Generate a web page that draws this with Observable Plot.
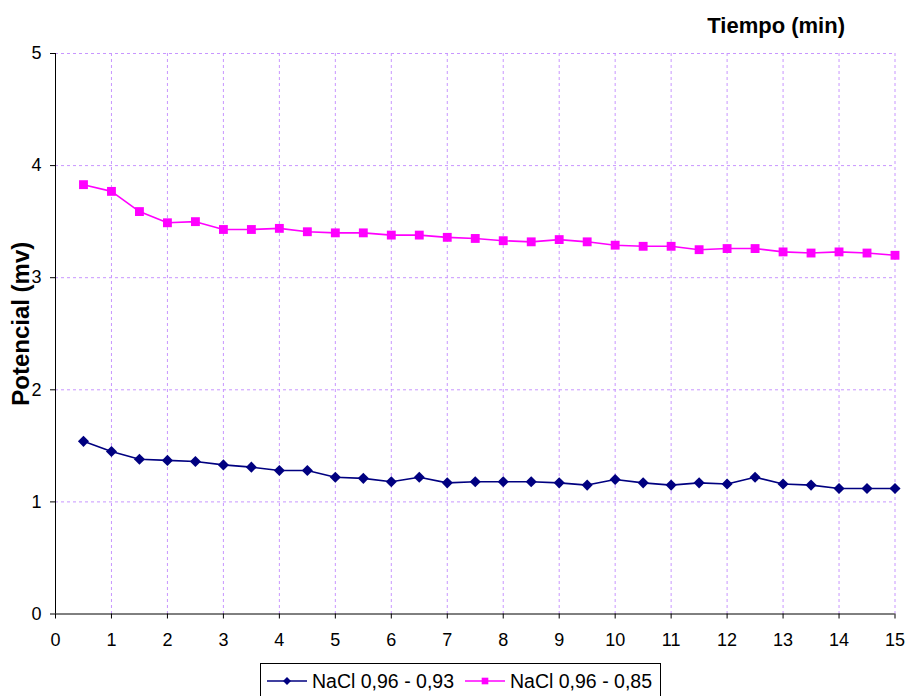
<!DOCTYPE html>
<html>
<head>
<meta charset="utf-8">
<script src="https://cdn.jsdelivr.net/npm/d3@7"></script>
<script src="https://cdn.jsdelivr.net/npm/@observablehq/plot@0.6"></script>
<style>
  html, body { margin: 0; padding: 0; background: #fff; }
  #wrap { position: relative; width: 908px; height: 696px; overflow: hidden; font-family: "Liberation Sans", Arial, sans-serif; }
  #legend {
    position: absolute; left: 260px; top: 663px; width: 401px; height: 44px;
    border: 1px solid #000; box-sizing: border-box; background: #fff;
    font-size: 19.5px; color: #000;
  }
  #legend .item { position: absolute; top: 4px; display: flex; align-items: center; white-space: nowrap; }
  #legend svg { display: block; }
</style>
</head>
<body>
<div id="wrap">
  <div id="chart"></div>
  <div id="legend"></div>
</div>
<script>
// Tiempo (min) de cada lectura
const tiempo = [0.5, 1, 1.5, 2, 2.5, 3, 3.5, 4, 4.5, 5, 5.5, 6, 6.5, 7, 7.5,
                8, 8.5, 9, 9.5, 10, 10.5, 11, 11.5, 12, 12.5, 13, 13.5, 14, 14.5, 15];

// Potencial (mv), NaCl 0,96 - 0,93
const nacl093 = [1.54, 1.45, 1.38, 1.37, 1.36, 1.33, 1.31, 1.28, 1.28, 1.22, 1.21, 1.18, 1.22, 1.17, 1.18,
                 1.18, 1.18, 1.17, 1.15, 1.20, 1.17, 1.15, 1.17, 1.16, 1.22, 1.16, 1.15, 1.12, 1.12, 1.12];

// Potencial (mv), NaCl 0,96 - 0,85
const nacl085 = [3.83, 3.77, 3.59, 3.49, 3.50, 3.43, 3.43, 3.44, 3.41, 3.40, 3.40, 3.38, 3.38, 3.36, 3.35,
                 3.33, 3.32, 3.34, 3.32, 3.29, 3.28, 3.28, 3.25, 3.26, 3.26, 3.23, 3.22, 3.23, 3.22, 3.20];

const seriesNames = ["NaCl 0,96 - 0,93", "NaCl 0,96 - 0,85"];
const xTicks = d3.range(0, 16);
const yTicks = [0, 1, 2, 3, 4, 5];
const xTitle = "Tiempo (min)";
const yTitle = "Potencial (mv)";

const colors = ["#000080", "#ff00ff"];
const symbols = ["diamond2", "square"];

const rows = [
  ...tiempo.map((t, i) => ({t, v: nacl093[i], s: seriesNames[0]})),
  ...tiempo.map((t, i) => ({t, v: nacl085[i], s: seriesNames[1]}))
];

const gridColor = "#c896ff";

const chart = Plot.plot({
  width: 908,
  height: 655,
  marginTop: 53,
  marginBottom: 41.5,
  marginLeft: 55,
  marginRight: 13.5,
  style: {fontFamily: "'Liberation Sans', Arial, sans-serif", fontSize: "18px", color: "#000", background: "#fff"},
  x: {domain: [0, 15]},
  y: {domain: [0, 5]},
  color: {domain: seriesNames, range: colors},
  symbol: {domain: seriesNames, range: symbols},
  marks: [
    Plot.gridX(xTicks.filter(d => d > 0), {stroke: gridColor, strokeOpacity: 1, strokeDasharray: "3,3"}),
    Plot.gridY(yTicks.filter(d => d > 0), {stroke: gridColor, strokeOpacity: 1, strokeDasharray: "3,3"}),
    Plot.axisX(xTicks, {tickSize: 5, tickPadding: 14, fontSize: 18, label: null, stroke: "#000", tickFormat: d => String(d)}),
    Plot.axisY(yTicks, {tickSize: 5, tickPadding: 9, fontSize: 18, label: null, stroke: "#000", tickFormat: d => String(d)}),
    Plot.ruleX([0], {stroke: "#000", strokeWidth: 1}),
    Plot.ruleY([0], {stroke: "#000", strokeWidth: 1}),
    Plot.line(rows, {x: "t", y: "v", z: "s", stroke: "s", strokeWidth: 1.6}),
    Plot.dot(rows, {x: "t", y: "v", fill: "s", symbol: "s", r: 5, stroke: "none"}),
    Plot.text([xTitle], {frameAnchor: "top-right", dx: -50, dy: -28, textAnchor: "end",
      lineAnchor: "middle", fontSize: 22, fontWeight: "bold", fill: "#000"}),
    Plot.text([yTitle], {frameAnchor: "left", dx: -34, dy: -10, rotate: -90, textAnchor: "middle",
      lineAnchor: "middle", fontSize: 24, fontWeight: "bold", fill: "#000"})
  ]
});
document.getElementById("chart").appendChild(chart);

// Leyenda bajo el gráfico
const legend = d3.select("#legend");
const offsets = [6, 204];
seriesNames.forEach((name, i) => {
  const item = legend.append("div").attr("class", "item").style("left", offsets[i] + "px");
  const sw = item.append("svg").attr("width", 40).attr("height", 26);
  sw.append("line").attr("x1", 0).attr("x2", 40).attr("y1", 13).attr("y2", 13)
    .attr("stroke", colors[i]).attr("stroke-width", 1.6);
  const sym = d3.symbol(i === 0 ? d3.symbolDiamond2 : d3.symbolSquare, i === 0 ? 40 : 44);
  sw.append("path").attr("d", sym()).attr("transform", "translate(20,13)").attr("fill", colors[i]);
  item.append("span").style("margin-left", "5px").text(name);
});
</script>
</body>
</html>
